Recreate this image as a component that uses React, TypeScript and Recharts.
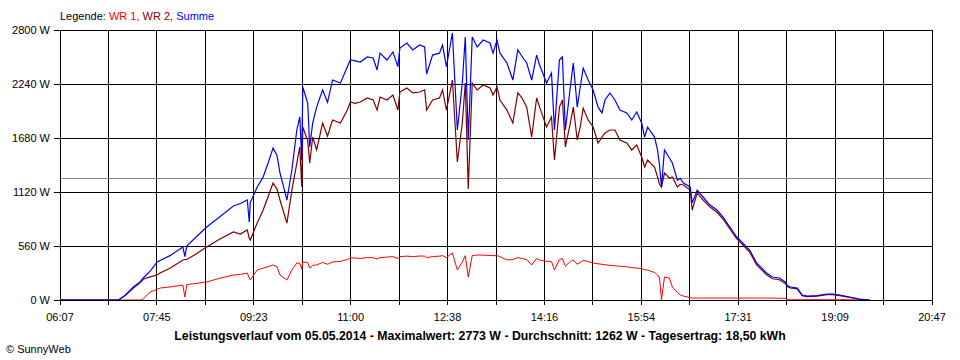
import { CartesianGrid, Line, LineChart, ReferenceLine, XAxis, YAxis } from "recharts";

// minutes after 06:07
const minutes = [
  0, 30, 59, 66, 74, 81, 84, 91, 98, 101, 111, 124, 126, 128, 136, 148, 161, 175, 182, 189,
  191, 192, 199, 205, 210, 215, 219, 222, 226, 229, 234, 239, 242, 244, 245, 250, 252, 255, 259, 265,
  270, 275, 283, 290, 293, 298, 303, 310, 316, 320, 323, 330, 336, 341, 343, 350, 356, 363, 368, 370,
  376, 383, 386, 390, 396, 401, 406, 409, 412, 416, 421, 427, 434, 437, 441, 444, 451, 457, 462, 466,
  471, 476, 481, 484, 491, 496, 499, 504, 507, 510, 515, 518, 522, 525, 528, 533, 538, 543, 547, 550,
  555, 560, 565, 572, 577, 582, 587, 590, 593, 600, 603, 605, 607, 610, 615, 618, 623, 626, 629, 636,
  638, 643, 649, 656, 663, 669, 676, 683, 689, 696, 703, 713, 719, 726, 732, 734, 737, 744, 749, 754,
  764, 774, 780, 787, 797, 807, 817,
];

const summe = [
  0, 0, 0, 50, 135, 190, 228, 300, 394, 410, 460, 550, 450, 560, 640, 757, 860, 975, 1000, 1037,
  809, 1010, 1172, 1276, 1420, 1576, 1500, 1317, 1160, 1037, 1348, 1763, 1900, 1450, 2209, 2043, 1587, 1835, 2000, 2178,
  2050, 2281, 2250, 2420, 2489, 2480, 2468, 2520, 2510, 2385, 2560, 2489, 2572, 2420, 2613, 2665, 2593, 2644, 2624, 2344,
  2540, 2560, 2644, 2420, 2769, 1763, 2250, 2727, 1660, 2727, 2624, 2696, 2665, 2560, 2696, 2560, 2458, 2281, 2593, 2530,
  2458, 2281, 2540, 2437, 2250, 2354, 1763, 2489, 2520, 1763, 2209, 2458, 2000, 2209, 2405, 2281, 2178, 2000, 1940, 2074,
  2147, 2074, 1970, 1940, 1867, 1950, 1835, 1690, 1794, 1690, 1556, 1400, 1172, 1556, 1473, 1420, 1244, 1260, 1213, 1172,
  1006, 1140, 1068, 985, 933, 861, 757, 653, 591, 518, 384, 280, 238, 228, 187, 150, 135, 124, 52, 41,
  45, 62, 62, 50, 31, 10, 0,
];

const wr2 = [
  0, 0, 0, 50, 124, 180, 215, 240, 259, 280, 330, 415, 420, 420, 470, 550, 630, 705, 684, 726,
  640, 622, 798, 933, 1070, 1213, 1150, 1037, 900, 798, 1140, 1420, 1587, 1172, 1794, 1650, 1420, 1690, 1556, 1835,
  1700, 1867, 1835, 1970, 2053, 2040, 2053, 2095, 2074, 1970, 2105, 2074, 2126, 1970, 2157, 2198, 2147, 2157, 2180, 1970,
  2074, 2095, 2178, 1970, 2281, 1431, 1835, 2250, 1151, 2250, 2178, 2230, 2198, 2126, 2209, 2074, 1970, 1835, 2147, 2100,
  2000, 1690, 2095, 2000, 1794, 1897, 1452, 2000, 2074, 1587, 1835, 2000, 1660, 1794, 1990, 1867, 1794, 1628, 1690, 1732,
  1763, 1763, 1660, 1628, 1556, 1607, 1483, 1379, 1452, 1379, 1276, 1200, 1172, 1317, 1265, 1276, 1172, 1200, 1193, 1140,
  933, 1110, 1037, 965, 910, 840, 737, 633, 571, 498, 364, 262, 220, 210, 170, 140, 125, 115, 45, 36,
  40, 56, 56, 45, 26, 8, 0,
];

const wr1 = [
  0, 0, 0, 0, 0, 0, 10, 83, 110, 124, 135, 155, 31, 160, 170, 187, 225, 259, 265, 280,
  230, 207, 311, 330, 345, 363, 345, 259, 230, 207, 311, 384, 380, 320, 394, 390, 332, 360, 363, 390,
  370, 395, 400, 420, 436, 436, 430, 440, 438, 425, 440, 445, 450, 430, 450, 455, 450, 456, 455, 440,
  450, 455, 460, 440, 487, 311, 394, 460, 238, 460, 467, 465, 462, 460, 460, 450, 415, 420, 440, 430,
  420, 363, 430, 415, 400, 400, 311, 420, 430, 350, 400, 415, 370, 390, 410, 400, 384, 375, 370, 365,
  360, 355, 350, 345, 335, 332, 325, 315, 310, 285, 260, 228, 0, 238, 228, 135, 80, 52, 41, 25,
  20, 20, 20, 20, 20, 20, 20, 20, 20, 20, 20, 20, 20, 18, 18, 3, 3, 3, 3, 3,
  3, 3, 3, 3, 3, 0, 0,
];

const TIME_LABELS = ["06:07", "07:45", "09:23", "11:00", "12:38", "14:16", "15:54", "17:31", "19:09", "20:47"];
const POWER_TICKS = [0, 560, 1120, 1680, 2240, 2800];
const AVERAGE_W = 1262;
const TITLE =
  "Leistungsverlauf vom 05.05.2014 - Maximalwert: 2773 W - Durchschnitt: 1262 W - Tagesertrag: 18,50 kWh";

const SPAN_MINUTES = 880;
const TICK_STEP = SPAN_MINUTES / 18;
const timeTicks = Array.from({ length: 19 }, (_, i) => i * TICK_STEP);

const chartData = minutes.map((t, i) => ({
  t,
  wr1: wr1[i],
  wr2: wr2[i],
  summe: summe[i],
}));

const FONT = "'Liberation Sans', Arial, sans-serif";

function formatTime(value: number): string {
  const index = Math.round(value / TICK_STEP);
  return index % 2 === 0 ? TIME_LABELS[index / 2] : "";
}

export default function App() {
  return (
    <div
      style={{
        position: "absolute",
        left: 0,
        top: 0,
        width: 960,
        height: 360,
        background: "#fff",
        fontFamily: FONT,
      }}
    >
      <div style={{ position: "absolute", left: 60, top: 9, fontSize: 11, lineHeight: "14px", whiteSpace: "nowrap" }}>
        <span style={{ color: "#000" }}>Legende: </span>
        <span style={{ color: "#ff0000" }}>WR 1, </span>
        <span style={{ color: "#800000" }}>WR 2, </span>
        <span style={{ color: "#0000ff" }}>Summe</span>
      </div>

      <LineChart width={960} height={360} data={chartData} margin={{ top: 30, right: 28, bottom: 40, left: 0 }}>
        <CartesianGrid stroke="#000" strokeWidth={1} shapeRendering="crispEdges" />
        <XAxis
          type="number"
          dataKey="t"
          domain={[0, SPAN_MINUTES]}
          ticks={timeTicks}
          interval={0}
          height={20}
          tickSize={5}
          tickMargin={8}
          tickFormatter={formatTime}
          stroke="#000"
          tick={{ fill: "#000", fontSize: 11, fontFamily: FONT }}
          shapeRendering="crispEdges"
        />
        <YAxis
          type="number"
          domain={[0, 2800]}
          ticks={POWER_TICKS}
          interval={0}
          width={60}
          tickSize={6}
          tickMargin={4}
          tickFormatter={(v: number) => `${v} W`}
          stroke="#000"
          tick={{ fill: "#000", fontSize: 11, fontFamily: FONT }}
          shapeRendering="crispEdges"
        />
        <ReferenceLine y={AVERAGE_W} stroke="#8a8a8a" strokeWidth={1} shapeRendering="crispEdges" />
        <Line type="linear" dataKey="wr1" stroke="#ff0000" strokeWidth={1} dot={false} isAnimationActive={false} />
        <Line type="linear" dataKey="wr2" stroke="#800000" strokeWidth={1.2} dot={false} isAnimationActive={false} />
        <Line type="linear" dataKey="summe" stroke="#0000ff" strokeWidth={1.2} dot={false} isAnimationActive={false} />
      </LineChart>

      <div
        style={{
          position: "absolute",
          left: 0,
          width: 960,
          top: 329,
          textAlign: "center",
          fontSize: 12.3,
          fontWeight: "bold",
          lineHeight: "15px",
          whiteSpace: "nowrap",
        }}
      >
        {TITLE}
      </div>
      <div style={{ position: "absolute", left: 6, top: 342, fontSize: 11, lineHeight: "14px" }}>© SunnyWeb</div>
    </div>
  );
}
